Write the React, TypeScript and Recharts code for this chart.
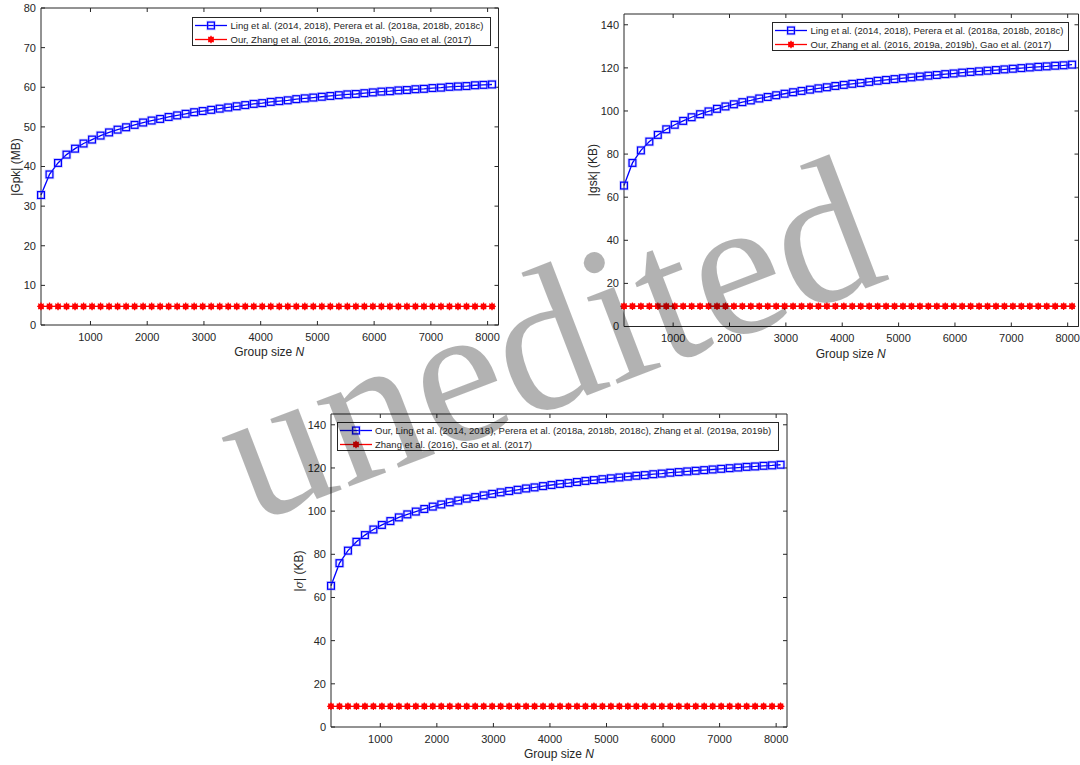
import * as React from "react";
import { LineChart, Line, XAxis, YAxis } from "recharts";

// group sizes N on the x axis (same for all three panels)
const groupSizes = [
  128, 278, 428, 578, 728, 878, 1028, 1178, 1328, 1478, 1628, 1778, 1928, 2078,
  2228, 2378, 2528, 2678, 2828, 2978, 3128, 3278, 3428, 3578, 3728, 3878, 4028,
  4178, 4328, 4478, 4628, 4778, 4928, 5078, 5228, 5378, 5528, 5678, 5828, 5978,
  6128, 6278, 6428, 6578, 6728, 6878, 7028, 7178, 7328, 7478, 7628, 7778, 7928,
  8078,
];

// |Gpk| (MB), Ling / Perera schemes
const gpkOthersMB = [
  32.8, 38.0, 40.9, 43.0, 44.5, 45.8, 46.8, 47.8, 48.6, 49.3, 49.9, 50.5, 51.1,
  51.6, 52.0, 52.5, 52.9, 53.3, 53.7, 54.0, 54.3, 54.6, 54.9, 55.2, 55.5, 55.8,
  56.0, 56.3, 56.5, 56.7, 57.0, 57.2, 57.4, 57.6, 57.8, 58.0, 58.2, 58.3, 58.5,
  58.7, 58.9, 59.0, 59.2, 59.3, 59.5, 59.6, 59.8, 59.9, 60.1, 60.2, 60.3, 60.5,
  60.6, 60.7,
];
const gpkOursMB = 4.7;

// |gsk| (KB)
const gskOthersKB = [
  65.4, 75.9, 81.7, 85.8, 88.9, 91.5, 93.6, 95.4, 97.1, 98.5, 99.8, 101.0, 102.1,
  103.1, 104.1, 104.9, 105.8, 106.5, 107.3, 108.0, 108.7, 109.3, 109.9, 110.5,
  111.0, 111.6, 112.1, 112.6, 113.0, 113.5, 114.0, 114.4, 114.8, 115.2, 115.6,
  116.0, 116.4, 116.7, 117.1, 117.4, 117.8, 118.1, 118.4, 118.7, 119.0, 119.3,
  119.6, 119.9, 120.2, 120.5, 120.7, 121.0, 121.2, 121.5,
];
const gskOursKB = 9.4;

// |sigma| (KB) - same growth curve as gsk in the figure
const sigmaOursKB = gskOthersKB;
const sigmaOthersKB = 9.6;

const xTicks = [1000, 2000, 3000, 4000, 5000, 6000, 7000, 8000];
const gpkTicks = [0, 10, 20, 30, 40, 50, 60, 70, 80];
const kbTicks = [0, 20, 40, 60, 80, 100, 120, 140];

const FONT = "Arial, 'Liberation Sans', Helvetica, sans-serif";
const INK = "#262626";
const BLUE = "#0000ff";
const RED = "#ff0000";

const Y_AXIS_W = 40;
const X_AXIS_H = 24;
const PAD = 5;

function Square({ cx, cy, key }: any) {
  if (cx == null || cy == null) return <g key={key} />;
  return (
    <g key={key}>
      <rect
        x={cx - 3.4}
        y={cy - 3.4}
        width={6.8}
        height={6.8}
        fill="none"
        stroke="#7070ff"
        strokeOpacity={0.35}
        strokeWidth={2.8}
      />
      <rect
        x={cx - 3.4}
        y={cy - 3.4}
        width={6.8}
        height={6.8}
        fill="none"
        stroke={BLUE}
        strokeWidth={1.2}
      />
    </g>
  );
}

function Star({ cx, cy, key }: any) {
  if (cx == null || cy == null) return <g key={key} />;
  const a = 3.8;
  const b = 2.7;
  return (
    <g key={key}>
      <circle cx={cx} cy={cy} r={3} fill={RED} />
      <path
        d={`M${cx - a},${cy}H${cx + a}M${cx},${cy - a}V${cy + a}M${cx - b},${cy - b}L${cx + b},${cy + b}M${cx - b},${cy + b}L${cx + b},${cy - b}`}
        stroke={RED}
        strokeWidth={1.2}
      />
    </g>
  );
}

type Box = { left: number; right: number; top: number; bottom: number };

function LegendBox({
  left,
  top,
  width,
  labels,
}: {
  left: number;
  top: number;
  width: number;
  labels: string[];
}) {
  return (
    <div
      style={{
        position: "absolute",
        left,
        top,
        width,
        height: 29,
        boxSizing: "border-box",
        border: `1px solid ${INK}`,
        background: "#fff",
      }}
    >
      {labels.map((label, i) => (
        <div
          key={label}
          style={{
            position: "absolute",
            left: 0,
            top: i === 0 ? 1 : 14.5,
            height: 13,
            display: "flex",
            alignItems: "center",
            whiteSpace: "nowrap",
          }}
        >
          <svg width={37} height={13} style={{ display: "block" }}>
            <line
              x1={2}
              x2={34}
              y1={6.5}
              y2={6.5}
              stroke={i === 0 ? BLUE : RED}
              strokeWidth={1.3}
            />
            {i === 0 ? Square({ cx: 18, cy: 6.5 }) : Star({ cx: 18, cy: 6.5 })}
          </svg>
          <span style={{ fontSize: 9.5, color: INK, marginLeft: 0.5 }}>
            {label}
          </span>
        </div>
      ))}
    </div>
  );
}

function Panel({
  box,
  blue,
  red,
  yMax,
  yTicks,
  yLabel,
  yLabelGap,
  legend,
}: {
  box: Box;
  blue: number[];
  red: number;
  yMax: number;
  yTicks: number[];
  yLabel: React.ReactNode;
  yLabelGap: number;
  legend: { left: number; top: number; width: number; labels: string[] };
}) {
  const rows = groupSizes.map((n, i) => ({ n, blue: blue[i], red }));
  const w = box.right - box.left;
  const h = box.bottom - box.top;
  const tickStyle = { fill: INK, fontSize: 11, fontFamily: FONT };
  const axisLine = { stroke: INK, strokeWidth: 1 };
  return (
    <>
      <div
        style={{
          position: "absolute",
          left: box.left - Y_AXIS_W,
          top: box.top - PAD,
        }}
      >
        <LineChart
          width={Y_AXIS_W + w + PAD}
          height={PAD + h + X_AXIS_H}
          data={rows}
          margin={{ top: PAD - 1, right: PAD - 1, bottom: 0, left: 0 }}
        >
          <XAxis
            xAxisId="bottom"
            dataKey="n"
            type="number"
            domain={[128, 8192]}
            ticks={xTicks}
            interval={0}
            height={X_AXIS_H}
            tickSize={-4}
            tickMargin={12}
            tick={tickStyle}
            axisLine={axisLine}
            tickLine={{ stroke: INK }}
          />
          <XAxis
            xAxisId="top"
            orientation="top"
            dataKey="n"
            type="number"
            domain={[128, 8192]}
            ticks={xTicks}
            interval={0}
            height={1}
            tickSize={-4}
            tickFormatter={() => ""}
            axisLine={axisLine}
            tickLine={{ stroke: INK }}
          />
          <YAxis
            yAxisId="left"
            type="number"
            domain={[0, yMax]}
            ticks={yTicks}
            interval={0}
            width={Y_AXIS_W}
            tickSize={-4}
            tickMargin={9}
            tick={tickStyle}
            axisLine={axisLine}
            tickLine={{ stroke: INK }}
          />
          <YAxis
            yAxisId="right"
            orientation="right"
            type="number"
            domain={[0, yMax]}
            ticks={yTicks}
            interval={0}
            width={1}
            tickSize={-4}
            tickFormatter={() => ""}
            axisLine={axisLine}
            tickLine={{ stroke: INK }}
          />
          <Line
            xAxisId="bottom"
            yAxisId="left"
            dataKey="blue"
            type="linear"
            stroke={BLUE}
            strokeWidth={1.3}
            dot={(p: any) => Square(p)}
            isAnimationActive={false}
          />
          <Line
            xAxisId="top"
            yAxisId="right"
            dataKey="red"
            type="linear"
            stroke={RED}
            strokeWidth={1.3}
            dot={(p: any) => Star(p)}
            isAnimationActive={false}
          />
        </LineChart>
      </div>
      <div
        style={{
          position: "absolute",
          left: box.left - yLabelGap,
          top: (box.top + box.bottom) / 2,
          transform: "translate(-50%, -50%) rotate(-90deg)",
          whiteSpace: "nowrap",
          fontSize: 12,
          color: INK,
        }}
      >
        {yLabel}
      </div>
      <div
        style={{
          position: "absolute",
          left: (box.left + box.right) / 2,
          top: box.bottom + 27,
          transform: "translate(-50%, -50%)",
          whiteSpace: "nowrap",
          fontSize: 12,
          color: INK,
        }}
      >
        Group size <i>N</i>
      </div>
      <LegendBox {...legend} />
    </>
  );
}

export default function App() {
  return (
    <div
      style={{
        position: "absolute",
        left: 0,
        top: 0,
        width: 1080,
        height: 765,
        overflow: "hidden",
        background: "#fff",
        fontFamily: FONT,
      }}
    >
      <Panel
        box={{ left: 40.5, right: 498, top: 8, bottom: 325 }}
        blue={gpkOthersMB}
        red={gpkOursMB}
        yMax={80}
        yTicks={gpkTicks}
        yLabel="|Gpk| (MB)"
        yLabelGap={25}
        legend={{
          left: 192,
          top: 17,
          width: 299,
          labels: [
            "Ling et al. (2014, 2018), Perera et al. (2018a, 2018b, 2018c)",
            "Our, Zhang et al. (2016, 2019a, 2019b), Gao et al. (2017)",
          ],
        }}
      />
      <Panel
        box={{ left: 623.5, right: 1078, top: 14, bottom: 326.5 }}
        blue={gskOthersKB}
        red={gskOursKB}
        yMax={145}
        yTicks={kbTicks}
        yLabel="|gsk| (KB)"
        yLabelGap={31}
        legend={{
          left: 772,
          top: 22,
          width: 297,
          labels: [
            "Ling et al. (2014, 2018), Perera et al. (2018a, 2018b, 2018c)",
            "Our, Zhang et al. (2016, 2019a, 2019b), Gao et al. (2017)",
          ],
        }}
      />
      <Panel
        box={{ left: 331, right: 787, top: 414, bottom: 727 }}
        blue={sigmaOursKB}
        red={sigmaOthersKB}
        yMax={145}
        yTicks={kbTicks}
        yLabel={
          <>
            |<i style={{ fontFamily: "'DejaVu Serif', serif", fontSize: 11 }}>σ</i>| (KB)
          </>
        }
        yLabelGap={32.5}
        legend={{
          left: 336.5,
          top: 422,
          width: 442.5,
          labels: [
            "Our, Ling et al. (2014, 2018), Perera et al. (2018a, 2018b, 2018c), Zhang et al. (2019a, 2019b)",
            "Zhang et al. (2016), Gao et al. (2017)",
          ],
        }}
      />
      <svg
        width={1080}
        height={765}
        style={{ position: "absolute", left: 0, top: 0, pointerEvents: "none" }}
      >
        <text
          x={252}
          y={524}
          transform="rotate(-21 252 524)"
          fontFamily="'Liberation Serif', 'Times New Roman', serif"
          fontSize={199}
          fill="#000"
          fillOpacity={0.3}
        >
          unedited
        </text>
      </svg>
    </div>
  );
}
